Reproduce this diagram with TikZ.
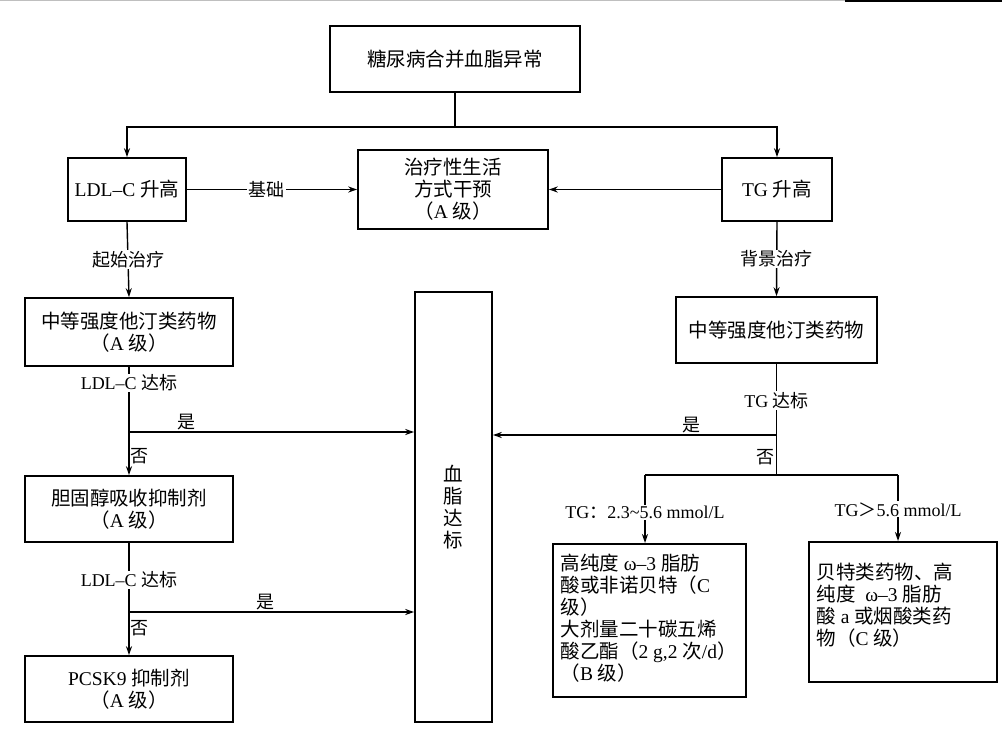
\documentclass[tikz,border=0pt]{standalone}
\usepackage{fontspec}
\setmainfont{Liberation Serif}
\newfontfamily\cjk{Noto Sans CJK SC}
\newcommand{\C}[1]{{\cjk #1}}
\usetikzlibrary{arrows.meta}
\begin{document}
\begin{tikzpicture}[x=1pt,y=-1pt,
  box/.style={draw,line width=1.6pt,inner sep=0pt},
  lbl/.style={font=\fontsize{18}{22}\selectfont,inner sep=1pt},
  ln/.style={line width=1.4pt},
  arr/.style={line width=1.4pt,-{Stealth[length=9pt,width=6pt]}},
  tx/.style={font=\fontsize{19.5}{22}\selectfont,align=center}]
\useasboundingbox (0,0) rectangle (1002,741);
\draw[gray!50,line width=1pt] (0,1) -- (845,1);
\draw[line width=1.5pt] (845,1) -- (1002,1);
% boxes
\node[box,minimum width=250,minimum height=66,tx] (top) at (455,59) {\C{糖尿病合并血脂异常}};
\node[box,minimum width=118,minimum height=63,tx] (ldl) at (127,189.5) {LDL–C \C{升高}};
\node[box,minimum width=190,minimum height=79,tx] (mid) at (453,189.5) {\C{治疗性生活}\\\C{方式干预}\\\C{（}A \C{级）}};
\node[box,minimum width=110,minimum height=63,tx] (tg) at (777,189.5) {TG \C{升高}};
\node[box,minimum width=208,minimum height=68,tx] (s1) at (129,332) {\C{中等强度他汀类药物}\\\C{（}A \C{级）}};
\node[box,minimum width=77,minimum height=430,tx] (bl) at (453.5,507) {\C{血}\\\C{脂}\\\C{达}\\\C{标}};
\node[box,minimum width=201,minimum height=66,tx] (s2) at (776.5,330) {\C{中等强度他汀类药物}};
\node[box,minimum width=208,minimum height=66,tx] (ch) at (129,509) {\C{胆固醇吸收抑制剂}\\\C{（}A \C{级）}};
\node[box,minimum width=208,minimum height=66,tx] (pc) at (129,689) {PCSK9 \C{抑制剂}\\\C{（}A \C{级）}};
\node[box,minimum width=193,minimum height=153,anchor=north] (b1) at (649.5,543) {};
\node[tx,align=left,anchor=north west] (t1) at (557,550) {\C{高纯度} ω–3 \C{脂肪}\\\C{酸或非诺贝特（}C\\\C{级）}\\\C{大剂量二十碳五烯}\\\C{酸乙酯（}2 g,2 \C{次}/d\C{）}\\\C{（}B \C{级）}};
\node[box,minimum width=188,minimum height=140,anchor=north] (b2) at (903,541) {};
\node[tx,align=left,anchor=north west] (t2) at (813,560) {\C{贝特类药物、高}\\\C{纯度}\ \ ω–3 \C{脂肪}\\\C{酸} a \C{或烟酸类药}\\\C{物（}C \C{级）}};
% top connectors
\coordinate (j0) at (455,127);
\draw[ln] (top.south) -- (j0);
\draw[arr] (j0) -| (ldl.north);
\draw[arr] (j0) -| (tg.north);
\draw[ln] (ldl.east) -- (247,189.5) node[lbl,right] (jc) {\C{基础}};
\draw[arr] (jc.east) -- (mid.west);
\draw[arr] (tg.west) -- (mid.east);
\draw[arr] (ldl.south) -- node[lbl,fill=white] {\C{起始治疗}} (s1.north);
\draw[arr] (tg.south) -- node[lbl,fill=white] {\C{背景治疗}} (s2.north);
% left chain
\draw[arr] (s1.south) -- node[lbl,fill=white,pos=0.15] {LDL–C \C{达标}} node[lbl,pos=0.82,right] {\C{否}} (ch.north);
\coordinate (y1) at (129,432);
\draw[arr] (y1) -- node[lbl,above,pos=0.2] {\C{是}} (bl.west |- y1);
\draw[arr] (ch.south) -- node[lbl,fill=white,pos=0.33] {LDL–C \C{达标}} node[lbl,pos=0.76,right] {\C{否}} (pc.north);
\coordinate (y2) at (129,612);
\draw[arr] (y2) -- node[lbl,above,pos=0.48] {\C{是}} (bl.west |- y2);
% right chain
\coordinate (j2) at (776.5,475);
\draw[ln] (s2.south) -- node[lbl,fill=white,pos=0.33] {TG \C{达标}} node[lbl,pos=0.84,left] {\C{否}} (j2);
\coordinate (y3) at (776.5,435);
\draw[arr] (y3) -- node[lbl,above,pos=0.3] {\C{是}} (bl.east |- y3);
\coordinate (jl) at (645,475);
\coordinate (jr) at (898,475);
\draw[ln] (jl) -- (jr);
\draw[arr] (jl) -- node[lbl,fill=white,pos=0.55] {TG\C{：}2.3\textasciitilde5.6 mmol/L} (jl |- b1.north);
\draw[arr] (jr) -- node[lbl,fill=white,pos=0.52] {TG\C{＞}5.6 mmol/L} (jr |- b2.north);
\end{tikzpicture}
\end{document}
